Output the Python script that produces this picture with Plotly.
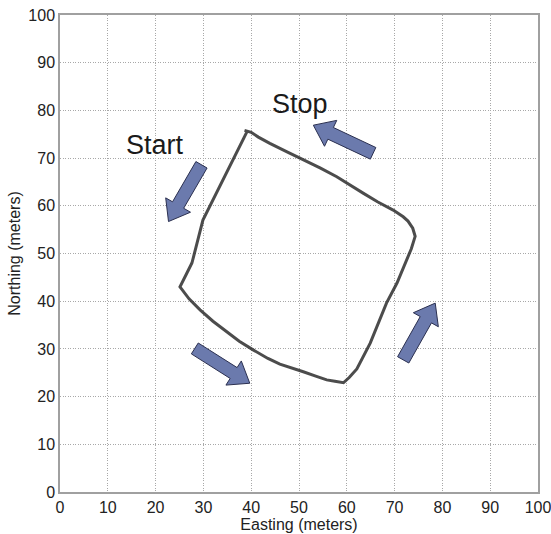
import math
import plotly.graph_objects as go

# Path of the walked loop (meters)
easting = [39.1, 37.5, 36.2, 34.5, 32.8, 29.9, 28.6, 27.6, 26.5, 25.1,
           27.0, 29.3, 32.0, 34.9, 37.5, 40.4, 43.5, 46.0, 48.5, 50.9,
           53.5, 55.8, 57.5, 59.3, 60.5, 62.1, 64.9, 66.5, 68.3, 70.5,
           72.5, 73.5, 74.3, 73.8, 72.8, 71.8, 69.7, 66.5, 63.5, 60.5,
           57.9, 54.5, 50.9, 47.5, 43.9, 41.5, 40.0, 38.6]
northing = [75.5, 72.3, 69.7, 66.3, 62.9, 57.0, 51.9, 48.0, 45.8, 43.0,
            40.5, 38.2, 35.8, 33.6, 31.6, 29.8, 28.0, 26.8, 25.9, 25.2,
            24.3, 23.5, 23.2, 22.9, 24.0, 25.8, 31.2, 35.0, 39.6, 43.8,
            48.5, 51.0, 53.6, 55.3, 56.8, 57.7, 59.1, 60.8, 62.6, 64.5,
            66.1, 67.9, 69.6, 71.3, 73.1, 74.4, 75.4, 75.8]

# Direction arrows: (tail_x, tail_y, tip_x, tip_y) in meters
arrow_tail_x = [29.6, 65.5, 28.2, 71.8]
arrow_tail_y = [68.6, 71.0, 30.1, 27.7]
arrow_tip_x = [22.7, 53.0, 39.7, 78.5]
arrow_tip_y = [56.7, 76.9, 22.8, 39.6]

label_text = ["Start", "Stop"]
label_x = [19.9, 50.2]
label_y = [72.7, 81.3]

ticks = list(range(0, 101, 10))

FONT = "Liberation Sans, Arial, sans-serif"

fig = go.Figure()
fig.add_trace(go.Scatter(
    x=easting, y=northing, mode="lines",
    line=dict(color="rgba(45,45,45,0.85)", width=3),
    showlegend=False, hoverinfo="skip"))

# block arrows built in data units (x and y scales are nearly equal)
shaft_hw = 1.35   # half width of shaft
head_hw = 3.0     # half width of head
head_len = 4.0    # length of head
shapes = []
for tx, ty, hx, hy in zip(arrow_tail_x, arrow_tail_y, arrow_tip_x, arrow_tip_y):
    dx, dy = hx - tx, hy - ty
    L = math.hypot(dx, dy)
    ux, uy = dx / L, dy / L
    px, py = -uy, ux
    bx, by = hx - ux * head_len, hy - uy * head_len
    pts = [
        (tx + px * shaft_hw, ty + py * shaft_hw),
        (bx + px * shaft_hw, by + py * shaft_hw),
        (bx + px * head_hw, by + py * head_hw),
        (hx, hy),
        (bx - px * head_hw, by - py * head_hw),
        (bx - px * shaft_hw, by - py * shaft_hw),
        (tx - px * shaft_hw, ty - py * shaft_hw),
    ]
    path = "M " + " L ".join(f"{a:.3f},{b:.3f}" for a, b in pts) + " Z"
    shapes.append(dict(type="path", path=path, xref="x", yref="y",
                       fillcolor="#6b7aad", line=dict(color="#2b3050", width=1)))

annotations = [
    dict(x=x, y=y, text=t, showarrow=False, xref="x", yref="y",
         font=dict(family=FONT, size=27, color="#1a1a1a"))
    for t, x, y in zip(label_text, label_x, label_y)
]

axis_common = dict(
    range=[0, 100], tickvals=ticks, ticktext=[str(t) for t in ticks],
    showgrid=True, gridcolor="#a8a8a8", griddash="1px,1.5px", gridwidth=1,
    zeroline=False, showline=True, mirror=True, linecolor="#a0a0a0", linewidth=1.5,
    ticks="", automargin=False, ticklabeloverflow="allow",
    tickfont=dict(family=FONT, size=16, color="#222"),
    title_font=dict(family=FONT, size=16, color="#222"),
)

fig.update_layout(
    width=551, height=534,
    margin=dict(l=60, r=13, t=15, b=42),
    paper_bgcolor="white", plot_bgcolor="white",
    xaxis=dict(axis_common, title=dict(text="Easting (meters)", standoff=0)),
    yaxis=dict(axis_common, title=dict(text="Northing (meters)", standoff=4)),
    shapes=shapes, annotations=annotations,
)

fig.write_html("out.html")
